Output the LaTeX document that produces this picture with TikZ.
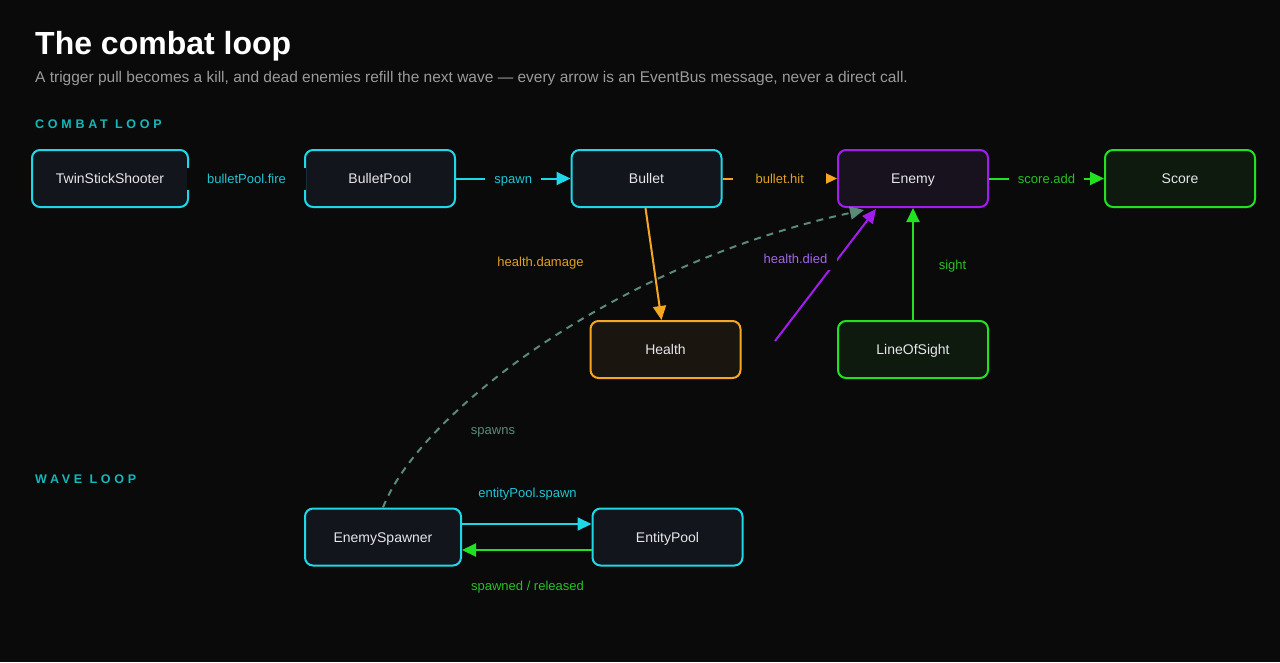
\documentclass[tikz,border=0pt]{standalone}
\usepackage{fontspec}
\setmainfont{Liberation Sans}
\usetikzlibrary{arrows.meta,calc}
\definecolor{bg}{HTML}{0A0A0A}
\definecolor{nodetext}{HTML}{E6E6EA}
\definecolor{cyanc}{HTML}{1ED8E8}
\definecolor{cyanl}{HTML}{1EC4D4}
\definecolor{orangec}{HTML}{F5A623}
\definecolor{orangel}{HTML}{E0A020}
\definecolor{purplec}{HTML}{A21CF0}
\definecolor{purplel}{HTML}{A066E8}
\definecolor{greenc}{HTML}{22E022}
\definecolor{greenl}{HTML}{22C222}
\definecolor{spawnc}{HTML}{5A8A78}
\definecolor{sectc}{HTML}{14B8B8}
\definecolor{subc}{HTML}{9A9A9A}
\definecolor{fillc}{HTML}{13151D}
\definecolor{fillp}{HTML}{18121F}
\definecolor{fillg}{HTML}{0F1A0F}
\definecolor{fillo}{HTML}{1A150E}
\tikzset{
  box/.style={draw, rounded corners=8pt, line width=2pt, minimum width=150pt, minimum height=57pt,
    inner sep=0pt, text height=12pt, text depth=2pt, font=\fontsize{14}{16}\selectfont, text=nodetext},
  cbox/.style={box, draw=cyanc, fill=fillc},
  pbox/.style={box, draw=purplec, fill=fillp},
  gbox/.style={box, draw=greenc, fill=fillg},
  obox/.style={box, draw=orangec, fill=fillo},
  lbl/.style={fill=bg, font=\fontsize{13}{15}\selectfont, inner xsep=9pt, inner ysep=3pt, minimum height=22pt,
    text height=11.3pt, text depth=2pt},
  freelbl/.style={font=\fontsize{13}{15}\selectfont, inner sep=0pt, text height=11.3pt, text depth=2pt},
  conn/.style={line width=2pt, -{Triangle[length=14pt,width=13pt]}},
  sect/.style={anchor=base west, inner sep=0pt, text=sectc, font=\fontsize{12.5}{14}\bfseries\addfontfeature{LetterSpace=30}}
}
\begin{document}
\begin{tikzpicture}[x=1pt,y=-1pt]
\useasboundingbox (0,0) rectangle (1280,662);
\fill[bg] (0,0) rectangle (1280,662);

\node[anchor=base west, inner sep=0pt, text=white, font=\fontsize{32}{36}\bfseries] (title) at (35,54) {The combat loop};
\node[anchor=base west, inner sep=0pt, text=subc, font=\fontsize{15.5}{18}\selectfont] (sub) at (35,82) {A trigger pull becomes a kill, and dead enemies refill the next wave — every arrow is an EventBus message, never a direct call.};
\node[sect] (s1) at (35,128) {COMBAT LOOP};
\node[sect] (s2) at (35,483) {WAVE LOOP};

\node[cbox, minimum width=156pt] (tss) at (110,178.5) {TwinStickShooter};
\node[cbox] (bp) at (380,178.5) {BulletPool};
\node[cbox] (bullet) at (646.5,178.5) {Bullet};
\node[pbox] (enemy) at (913,178.5) {Enemy};
\node[gbox] (score) at (1180,178.5) {Score};
\node[obox] (health) at (665.5,349.5) {Health};
\node[gbox] (los) at (913,349.5) {LineOfSight};
\node[cbox, minimum width=156pt] (spawner) at (383,537) {EnemySpawner};
\node[cbox] (pool) at (667.5,537) {EntityPool};

\draw[conn, cyanc] (tss) -- node[lbl, text=cyanl, minimum width=119pt] {bulletPool.fire} (bp);
\draw[conn, cyanc] (bp) -- node[lbl, text=cyanl] {spawn} (bullet);
\draw[conn, orangec] (bullet) -- node[lbl, text=orangel, minimum width=93pt] {bullet.hit} (enemy);
\draw[conn, greenc] (enemy) -- node[lbl, text=greenl] {score.add} (score);

\draw[conn, orangec] ([xshift=-1pt]bullet.south) -- ([xshift=-4pt]health.north);
\node[freelbl, text=orangel] (ldmg) at (540.5,262) {health.damage};

\draw[line width=2pt, spawnc, dash pattern=on 7pt off 6pt, -{Triangle[length=14pt,width=13pt]}]
  (spawner.north) .. controls (420,412) and (620,262) .. ([xshift=-49pt,yshift=-2pt]enemy.south);
\node[freelbl, text=spawnc] (lsp) at (493,430) {spawns};

\coordinate (diedstart) at (775,341);
\draw[conn, purplec] (diedstart) -- ([xshift=-37pt,yshift=-1pt]enemy.south);
\node[lbl, text=purplel, inner xsep=10pt] (ldied) at (795.5,259) {health.died};

\draw[conn, greenc] (los) -- (enemy);
\node[freelbl, text=greenl] (lsight) at (952.5,264.5) {sight};

\draw[conn, cyanc] ([yshift=13pt]spawner.east) -- ([yshift=13pt]pool.west);
\draw[conn, greenc] ([yshift=-13pt]pool.west) -- ([yshift=-13pt]spawner.east);
\node[freelbl, text=cyanl] (lep) at (527.5,492.5) {entityPool.spawn};
\node[freelbl, text=greenl] (lrel) at (527.5,586) {spawned / released};
\end{tikzpicture}
\end{document}
